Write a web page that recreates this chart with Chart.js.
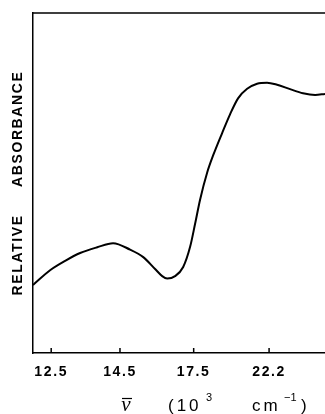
<!DOCTYPE html>
<html>
<head>
<meta charset="utf-8">
<script src="https://cdn.jsdelivr.net/npm/chart.js@4/dist/chart.umd.min.js"></script>
<style>
  body { margin: 0; background: #fff; }
  #wrap { width: 325px; height: 414px; }
</style>
</head>
<body>
<div id="wrap"><canvas id="spectrum" width="325" height="414"></canvas></div>
<script>
// wavenumber in 10^3 cm^-1
const wavenumbers = [12.06, 12.48, 12.86, 13.27, 13.77, 14.27, 14.85, 15.33, 15.79, 16.08, 16.29, 16.63, 17.00, 17.33, 17.57, 17.82, 18.19, 18.51, 19.02, 19.49, 19.99, 20.59, 21.29, 22.04, 22.85, 23.99, 25.25, 26.55, 27.72];
const absorbance = [20.0, 24.4, 27.1, 29.4, 31.1, 32.3, 30.4, 28.2, 24.7, 22.6, 21.9, 22.6, 25.3, 31.3, 38.0, 45.1, 53.1, 58.1, 64.7, 70.2, 74.9, 77.7, 79.2, 79.5, 78.9, 77.6, 76.4, 75.9, 76.2];
const tickLabels = ['12.5', '14.5', '17.5', '22.2'];
const axisRange = [12.06, 27.72];

// the axis is linear in wavelength (nm), so plot against 10^4 / wavenumber
const toNm = v => 1e4 / v;
const points = wavenumbers.map((v, i) => ({ x: toNm(v), y: absorbance[i] }));

const framePlugin = {
    id: 'frame',
    beforeDraw(chart) {
        chart.ctx.letterSpacing = '1.6px';
    },
    beforeDatasetsDraw(chart) {
        const ctx = chart.ctx;
        const area = chart.chartArea;
        const xs = chart.scales.x;
        ctx.save();
        ctx.letterSpacing = '0px';
        ctx.strokeStyle = '#000';
        ctx.lineWidth = 1.5;
        ctx.beginPath();
        ctx.moveTo(area.left, area.top);
        ctx.lineTo(area.right, area.top);
        // short inward ticks
        tickLabels.forEach(t => {
            const px = xs.getPixelForValue(toNm(parseFloat(t)));
            ctx.moveTo(px, area.bottom);
            ctx.lineTo(px, area.bottom - 5);
        });
        ctx.stroke();
        ctx.restore();
        ctx.letterSpacing = '0px';
    },
    afterDraw(chart) {
        const ctx = chart.ctx;
        ctx.save();
        ctx.fillStyle = '#000';
        ctx.strokeStyle = '#000';
        ctx.textBaseline = 'alphabetic';
        ctx.textAlign = 'center';
        ctx.font = 'italic 21px "Liberation Serif"';
        ctx.fillText('ν', 126, 411);
        ctx.lineWidth = 1.2;
        ctx.beginPath();
        ctx.moveTo(122, 398.5);
        ctx.lineTo(132, 398.5);
        ctx.stroke();
        ctx.textAlign = 'left';
        ctx.letterSpacing = '3px';
        ctx.font = '17px "Liberation Sans"';
        ctx.fillText('(10', 168, 411);
        ctx.fillText('cm', 252, 411);
        ctx.letterSpacing = '0px';
        ctx.fillText(')', 301, 411);
        ctx.font = '11px "Liberation Sans"';
        ctx.fillText('3', 206, 401);
        ctx.fillText('−1', 284, 401);
        ctx.restore();
    }
};

const ctx = document.getElementById('spectrum').getContext('2d');
const spectrumChart = new Chart(ctx, {
    type: 'line',
    data: {
        datasets: [{
            data: points,
            borderColor: '#000',
            borderWidth: 2,
            pointRadius: 0,
            fill: false,
            cubicInterpolationMode: 'monotone'
        }]
    },
    options: {
        responsive: false,
        animation: false,
        layout: { padding: { top: 13, left: 0, right: 0, bottom: 0 } },
        plugins: { legend: { display: false }, tooltip: { enabled: false } },
        scales: {
            x: {
                type: 'linear',
                reverse: true,
                min: toNm(axisRange[1]),
                max: toNm(axisRange[0]),
                grid: { display: false, drawTicks: false },
                border: { display: true, color: '#000', width: 1.5 },
                afterBuildTicks: scale => {
                    scale.ticks = tickLabels.map(t => ({ value: toNm(parseFloat(t)) }));
                },
                afterFit: scale => { scale.height = 61; },
                ticks: {
                    color: '#000',
                    padding: 11,
                    maxRotation: 0,
                    autoSkip: false,
                    font: { family: 'Liberation Sans', size: 14, weight: 'bold' },
                    callback: (value, i) => tickLabels[i]
                }
            },
            y: {
                min: 0,
                max: 100,
                grid: { display: false, drawTicks: false },
                border: { display: true, color: '#000', width: 1.5 },
                ticks: { display: false },
                afterFit: scale => { scale.width = 33; },
                title: {
                    display: true,
                    text: 'RELATIVE     ABSORBANCE',
                    color: '#000',
                    padding: { top: 10, bottom: 0 },
                    font: { family: 'Liberation Sans', size: 14, weight: 'bold' }
                }
            }
        }
    },
    plugins: [framePlugin]
});
</script>
</body>
</html>
